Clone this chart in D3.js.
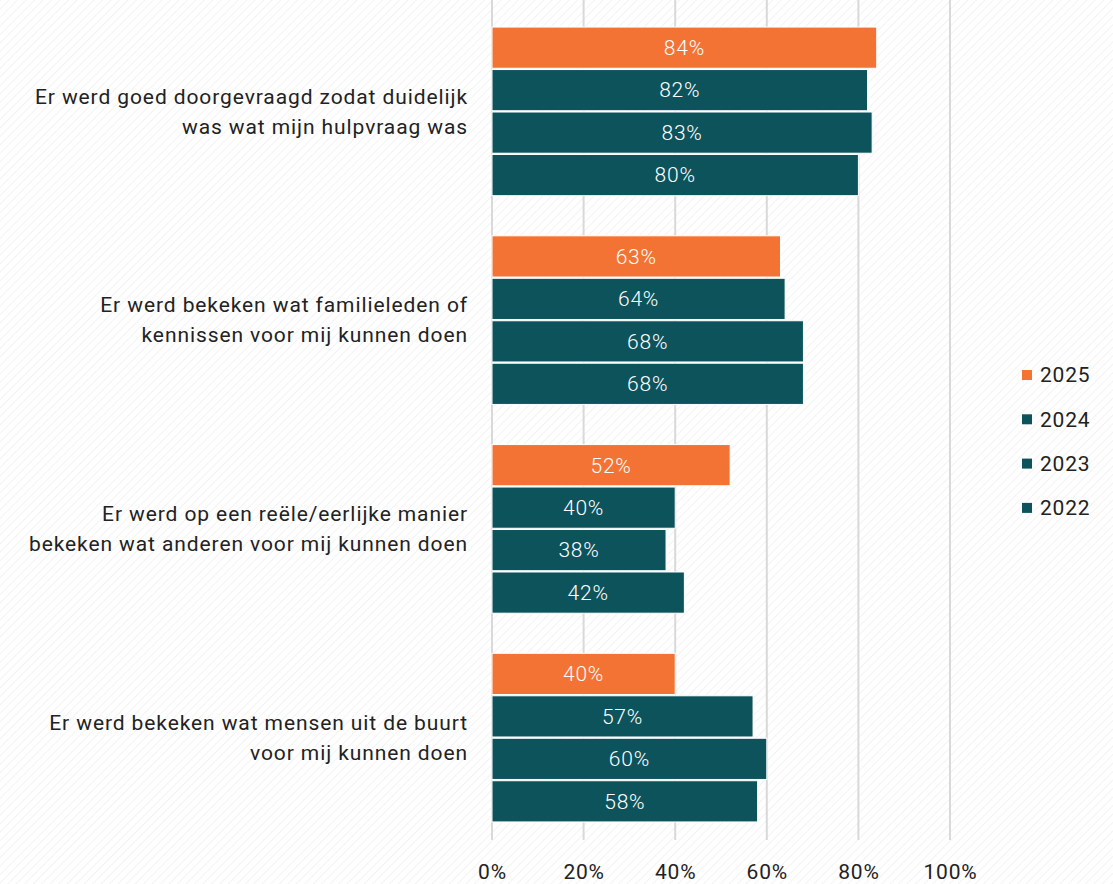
<!DOCTYPE html>
<html><head><meta charset="utf-8">
<script src="https://cdn.jsdelivr.net/npm/d3@7"></script>
<style>
html,body{margin:0;padding:0;background:#fff;}
svg{display:block;font-family:Roboto, "Noto Sans", sans-serif;}
</style></head>
<body>
<svg id="chart" width="1113" height="884"></svg>
<script>
const categories = [
  ["Er werd goed doorgevraagd zodat duidelijk", "was wat mijn hulpvraag was"],
  ["Er werd bekeken wat familieleden of", "kennissen voor mij kunnen doen"],
  ["Er werd op een reële/eerlijke manier", "bekeken wat anderen voor mij kunnen doen"],
  ["Er werd bekeken wat mensen uit de buurt", "voor mij kunnen doen"]
];
const years = ["2025", "2024", "2023", "2022"];
const v2025 = [84, 63, 52, 40];
const v2024 = [82, 64, 40, 57];
const v2023 = [83, 68, 38, 60];
const v2022 = [80, 68, 42, 58];
const series = [v2025, v2024, v2023, v2022];
const xTicks = [0, 20, 40, 60, 80, 100];
const colors = ["#F37335", "#0D535C", "#0D535C", "#0D535C"];

const svg = d3.select("#chart");
const W = 1113, H = 884;

// background hatch
const defs = svg.append("defs");
const pat = defs.append("pattern").attr("id","hatch").attr("patternUnits","userSpaceOnUse")
  .attr("width",6).attr("height",6).attr("patternTransform","rotate(45)");
pat.append("rect").attr("width",6).attr("height",6).attr("fill","#fff");
pat.append("line").attr("x1",0).attr("y1",0).attr("x2",0).attr("y2",6)
  .attr("stroke","#f0f0f0").attr("stroke-width",1.5);
svg.append("rect").attr("width",W).attr("height",H).attr("fill","url(#hatch)");

const x = d3.scaleLinear().domain([0,100]).range([492,950]);
const y0 = d3.scaleBand().domain(d3.range(categories.length)).range([7,842]).paddingInner(0.18).paddingOuter(0.09);
const y1 = d3.scaleBand().domain(d3.range(years.length)).range([0,y0.bandwidth()]).padding(0.03);

// grid
svg.append("g").selectAll("line").data(xTicks).join("line")
  .attr("x1",d=>x(d)).attr("x2",d=>x(d)).attr("y1",0).attr("y2",840)
  .attr("stroke","#d9d9d9").attr("stroke-width",2);

// axis labels
const ax = svg.append("g").attr("transform","translate(0,872)")
  .call(d3.axisBottom(x).tickValues(xTicks).tickFormat(d=>d+"%").tickSize(0));
ax.select(".domain").remove();
ax.selectAll("text").attr("font-size",21).attr("fill","#222").attr("font-family","Roboto")
  .attr("letter-spacing","0.8px").attr("dy","0.35em").attr("y",0);

// bars
const groups = svg.append("g").selectAll("g").data(categories).join("g")
  .attr("transform",(d,i)=>`translate(0,${y0(i)})`);
groups.each(function(cat, ci){
  const g = d3.select(this);
  series.forEach((s, si)=>{
    g.append("rect").attr("x",x(0)).attr("y",y1(si))
      .attr("width",x(s[ci])-x(0)).attr("height",y1.bandwidth())
      .attr("fill",colors[si]).attr("stroke","#fff").attr("stroke-width",1);
    g.append("text").attr("x",(x(0)+x(s[ci]))/2).attr("y",y1(si)+y1.bandwidth()/2)
      .attr("dy","0.35em").attr("text-anchor","middle").attr("font-size",21)
      .attr("letter-spacing","0.8px").attr("font-weight",300)
      .attr("fill","#fff").text(s[ci]+"%");
  });
  const t = g.append("text").attr("text-anchor","end").attr("font-size",21)
    .attr("letter-spacing","0.9px").attr("fill","#222");
  cat.forEach((line, li)=>{
    t.append("tspan").attr("x",468).attr("y",y0.bandwidth()/2 + (li - (cat.length-1)/2)*30).attr("dy","0.35em").text(line);
  });
});

// legend
const lg = svg.append("g").selectAll("g").data(years).join("g")
  .attr("transform",(d,i)=>`translate(1022,${375 + i*44.3})`);
lg.append("rect").attr("x",0).attr("y",-5).attr("width",10).attr("height",10).attr("fill",(d,i)=>colors[i]);
lg.append("text").attr("x",18).attr("dy","0.35em").attr("font-size",21)
  .attr("letter-spacing","0.8px").attr("fill","#222").text(d=>d);
</script>
</body></html>
